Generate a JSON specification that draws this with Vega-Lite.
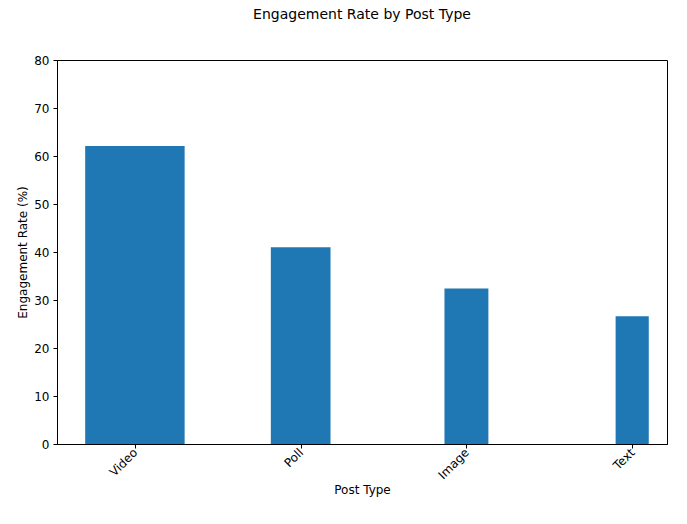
{
  "$schema": "https://vega.github.io/schema/vega-lite/v6.json",
  "width": 610,
  "height": 384,
  "autosize": "none",
  "padding": {"left": 57, "top": 60, "right": 20, "bottom": 80},
  "title": {"text": "Engagement Rate by Post Type", "fontSize": 14, "fontWeight": "normal", "font": "DejaVu Sans", "offset": 32, "anchor": "middle"},
  "data": {
    "values": [
      {"type": "Video", "idx": 0, "w": 0.6, "rate": 62.1},
      {"type": "Poll", "idx": 1, "w": 0.36, "rate": 41.0},
      {"type": "Image", "idx": 2, "w": 0.265, "rate": 32.4},
      {"type": "Text", "idx": 3, "w": 0.2, "rate": 26.6}
    ]
  },
  "transform": [
    {"calculate": "datum.idx - datum.w / 2", "as": "x0"},
    {"calculate": "datum.idx + datum.w / 2", "as": "x1"}
  ],
  "mark": {"type": "rect", "color": "#1f77b4"},
  "encoding": {
    "x": {
      "field": "x0", "type": "quantitative", "title": "Post Type",
      "scale": {"domain": [-0.47, 3.21], "nice": false, "zero": false},
      "axis": {"values": [0, 1, 2, 3], "labelExpr": "['Video','Poll','Image','Text'][datum.value]", "labelAngle": -45, "labelAlign": "right", "labelBaseline": "middle", "grid": false, "labelPadding": 2}
    },
    "x2": {"field": "x1"},
    "y": {
      "field": "rate", "type": "quantitative", "title": "Engagement Rate (%)",
      "scale": {"domain": [0, 80], "nice": false},
      "axis": {"values": [0, 10, 20, 30, 40, 50, 60, 70, 80], "grid": false}
    },
    "y2": {"datum": 0}
  },
  "config": {
    "font": "DejaVu Sans",
    "view": {"stroke": "black", "strokeWidth": 1},
    "axis": {"offset": 0, "labelFontSize": 12, "titleFontSize": 12, "titleFontWeight": "normal", "labelColor": "black", "titleColor": "black", "domainColor": "black", "tickColor": "black", "tickSize": 4, "labelPadding": 4, "labelFlush": false}
  }
}
